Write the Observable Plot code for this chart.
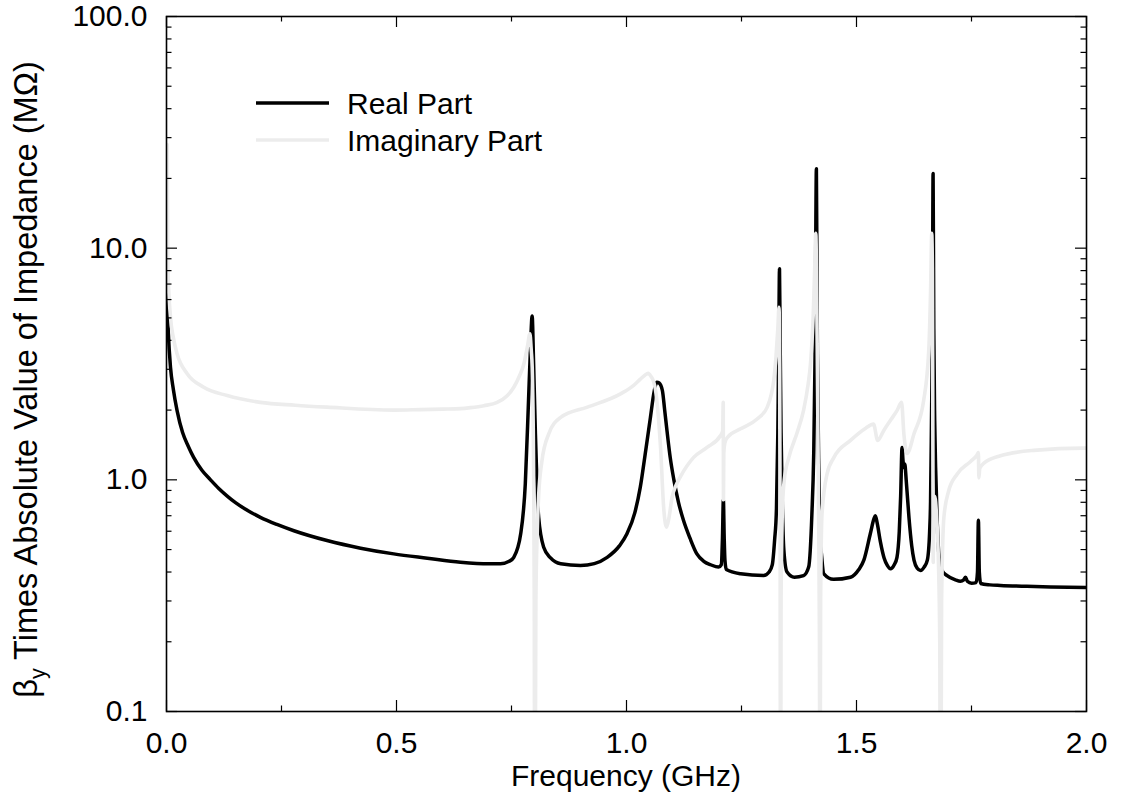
<!DOCTYPE html>
<html><head><meta charset="utf-8">
<script src="https://cdn.jsdelivr.net/npm/d3@7"></script>
<script src="https://cdn.jsdelivr.net/npm/@observablehq/plot@0.6"></script>
<style>
body{margin:0;background:#fff;}
#wrap{width:1123px;height:800px;}
</style></head><body><div id="wrap"></div>
<script>
// Real part: frequency (GHz) and value (MΩ)
const realFreq = [0.000,0.0015,0.004,0.0087,0.015,0.023,0.035,0.047,0.059,0.077,0.0957,0.113,0.132,0.15,0.17,0.204,0.24,0.277,0.349,0.422,0.494,0.567,0.639,0.70,0.726,0.745,0.755,0.770,0.780,0.787,0.791,0.7949,0.798,0.802,0.809,0.820,0.835,0.857,0.90,0.93,0.958,0.985,1.001,1.018,1.030,1.042,1.052,1.060,1.066,1.071,1.078,1.083,1.088,1.095,1.103,1.113,1.124,1.138,1.153,1.168,1.183,1.200,1.206,1.2085,1.2106,1.2125,1.214,1.217,1.248,1.298,1.310,1.317,1.322,1.326,1.329,1.331,1.3326,1.334,1.336,1.339,1.342,1.349,1.365,1.385,1.396,1.403,1.407,1.410,1.4128,1.415,1.418,1.421,1.425,1.429,1.450,1.487,1.505,1.516,1.530,1.538,1.541,1.545,1.552,1.560,1.567,1.574,1.582,1.588,1.593,1.596,1.599,1.601,1.603,1.605,1.608,1.614,1.620,1.625,1.632,1.639,1.647,1.654,1.659,1.661,1.663,1.665,1.6665,1.668,1.670,1.672,1.675,1.679,1.686,1.697,1.715,1.726,1.733,1.737,1.741,1.750,1.760,1.763,1.765,1.767,1.770,1.790,1.813,1.870,1.922,2.000];
const realVal = [7.0,5.9,4.3,3.06,2.45,1.99,1.6,1.4,1.25,1.1,1.0,0.92,0.851,0.797,0.75,0.689,0.642,0.603,0.547,0.507,0.479,0.459,0.441,0.434,0.434,0.445,0.463,0.585,0.96,2.2,3.6,5.1,3.2,1.58,0.69,0.512,0.46,0.434,0.427,0.435,0.463,0.52,0.585,0.72,0.93,1.35,1.86,2.4,2.64,2.62,2.43,2.0,1.63,1.25,1.0,0.8,0.667,0.56,0.479,0.445,0.43,0.42,0.43,0.55,0.82,0.55,0.45,0.41,0.393,0.386,0.40,0.43,0.55,0.75,1.6,3.8,8.15,4.0,1.6,0.75,0.50,0.40,0.38,0.386,0.42,0.71,1.3,3.5,22,3.5,1.1,0.6,0.45,0.393,0.372,0.38,0.41,0.45,0.585,0.68,0.70,0.65,0.54,0.46,0.427,0.413,0.43,0.463,0.6,0.85,1.38,1.22,1.13,1.17,1.0,0.69,0.52,0.45,0.415,0.406,0.42,0.45,0.6,0.81,1.8,4.5,21,4.5,1.8,1.13,0.7,0.48,0.406,0.386,0.37,0.365,0.37,0.38,0.365,0.358,0.36,0.4,0.67,0.4,0.357,0.352,0.35,0.347,0.345,0.343];

// Imaginary part (absolute value; values below 0.1 dip out of the frame)
const imagFreq = [0.000,0.0015,0.003,0.0087,0.015,0.023,0.045,0.081,0.132,0.204,0.28,0.349,0.494,0.552,0.600,0.639,0.661,0.690,0.719,0.740,0.755,0.767,0.777,0.785,0.790,0.793,0.795,0.798,0.7995,0.8005,0.803,0.806,0.809,0.816,0.831,0.857,0.915,0.987,1.015,1.030,1.040,1.047,1.053,1.059,1.063,1.068,1.074,1.081,1.087,1.092,1.099,1.108,1.117,1.146,1.175,1.204,1.209,1.2103,1.2108,1.2115,1.214,1.220,1.248,1.284,1.306,1.315,1.320,1.325,1.329,1.3315,1.333,1.334,1.3348,1.336,1.339,1.343,1.353,1.371,1.385,1.395,1.400,1.406,1.409,1.4115,1.413,1.415,1.417,1.4195,1.4203,1.422,1.425,1.436,1.451,1.487,1.520,1.537,1.546,1.559,1.575,1.588,1.598,1.603,1.610,1.625,1.646,1.657,1.661,1.6635,1.665,1.666,1.6668,1.668,1.670,1.674,1.678,1.681,1.6826,1.685,1.690,1.700,1.719,1.748,1.762,1.765,1.766,1.768,1.777,1.813,1.885,1.994,2.000];
const imagVal = [28,28,8.3,5.04,4.1,3.5,2.87,2.51,2.31,2.16,2.1,2.06,2.0,2.01,2.02,2.03,2.05,2.09,2.16,2.3,2.51,2.8,3.17,3.8,4.27,3.6,3.06,1.13,0.3,0.01,0.3,0.6,0.85,1.2,1.58,1.86,2.06,2.35,2.55,2.72,2.83,2.88,2.8,2.65,2.45,2.0,1.38,0.75,0.625,0.68,0.84,0.95,1.03,1.25,1.38,1.55,1.62,2.16,0.82,1.3,1.45,1.53,1.66,1.83,2.06,2.35,2.68,3.4,4.5,5.55,3.0,0.5,0.01,0.3,0.75,1.0,1.25,1.6,2.0,2.6,3.17,5.2,8.0,11.6,8.0,3.0,1.0,0.2,0.01,0.3,0.71,1.06,1.25,1.48,1.67,1.74,1.48,1.63,1.82,1.99,2.16,1.58,1.3,1.58,2.2,3.6,6.5,11.6,8.0,1.5,0.44,0.8,0.85,0.7,0.45,0.2,0.01,0.3,0.69,0.89,1.06,1.2,1.28,1.31,1.02,1.12,1.18,1.27,1.34,1.37,1.37];

const xTicksMajor = [0, 0.5, 1.0, 1.5, 2.0];
const xTicksMinor = [0.25, 0.75, 1.25, 1.75];
const yTicksMajor = [0.1, 1, 10, 100];
const yTicksMinor = [0.2,0.3,0.4,0.5,0.6,0.7,0.8,0.9,2,3,4,5,6,7,8,9,20,30,40,50,60,70,80,90];
const seriesNames = ["Real Part", "Imaginary Part"];
const seriesColors = ["#000000", "#ececec"];
const xTitle = "Frequency (GHz)";
const yTitleBeta = "β", yTitleSub = "y", yTitleRest = " Times Absolute Value of Impedance (MΩ)";

const W = 1123, H = 800, mL = 166, mR = 37, mT = 16, mB = 89;
const innerW = W - mL - mR, innerH = H - mT - mB;
const FONT = "Liberation Sans, Arial, Helvetica, sans-serif";
const FS = 30, FSY = 32.5;

const real = realFreq.map((f, i) => ({f, v: realVal[i]}));
const imag = imagFreq.map((f, i) => ({f, v: imagVal[i]}));

const majLen = 11, minLen = 5.5;
const chart = Plot.plot({
  width: W, height: H,
  marginLeft: mL, marginRight: mR, marginTop: mT, marginBottom: mB,
  style: {fontFamily: FONT, fontSize: FS + "px", background: "#fff", color: "#000", overflow: "visible"},
  x: {domain: [0, 2]},
  y: {type: "log", domain: [0.1, 100]},
  marks: [
    Plot.line(real, {x: "f", y: "v", stroke: seriesColors[0], strokeWidth: 3.5, curve: "monotone-x", clip: true}),
    Plot.line(imag, {x: "f", y: "v", stroke: seriesColors[1], strokeWidth: 3.6, curve: "monotone-x", clip: true}),
    Plot.ruleX(xTicksMajor, {x: d => d, insetTop: innerH - majLen, stroke: "#000", strokeWidth: 1.2}),
    Plot.ruleX(xTicksMajor, {x: d => d, insetBottom: innerH - majLen, stroke: "#000", strokeWidth: 1.2}),
    Plot.ruleX(xTicksMinor, {x: d => d, insetTop: innerH - minLen, stroke: "#000", strokeWidth: 1.2}),
    Plot.ruleX(xTicksMinor, {x: d => d, insetBottom: innerH - minLen, stroke: "#000", strokeWidth: 1.2}),
    Plot.ruleY(yTicksMajor, {y: d => d, insetRight: innerW - majLen, stroke: "#000", strokeWidth: 1.2}),
    Plot.ruleY(yTicksMajor, {y: d => d, insetLeft: innerW - majLen, stroke: "#000", strokeWidth: 1.2}),
    Plot.ruleY(yTicksMinor, {y: d => d, insetRight: innerW - minLen, stroke: "#000", strokeWidth: 1.2}),
    Plot.ruleY(yTicksMinor, {y: d => d, insetLeft: innerW - minLen, stroke: "#000", strokeWidth: 1.2}),
    Plot.frame({stroke: "#000", strokeWidth: 1.6}),
    Plot.axisX(xTicksMajor, {tickSize: 0, tickPadding: 20, tickFormat: d => d.toFixed(1), label: null, fontSize: FS}),
    Plot.axisY(yTicksMajor, {tickSize: 0, tickPadding: 19, tickFormat: d => d.toFixed(1), label: null, fontSize: FS})
  ]
});
document.getElementById("wrap").appendChild(chart);

const svg = d3.select(chart);
svg.append("text")
  .attr("x", mL + innerW / 2).attr("y", 786)
  .attr("text-anchor", "middle")
  .attr("font-family", FONT).attr("font-size", FS).attr("fill", "#000")
  .text(xTitle);
const yt = svg.append("text")
  .attr("transform", `translate(37,${mT + innerH / 2 + 16}) rotate(-90)`)
  .attr("text-anchor", "middle")
  .attr("font-family", FONT).attr("font-size", FSY).attr("fill", "#000");
yt.append("tspan").text(yTitleBeta);
yt.append("tspan").attr("dy", 8).attr("font-size", FSY * 0.66).text(yTitleSub);
yt.append("tspan").attr("dy", -8).text(yTitleRest);

const lg = svg.append("g");
seriesNames.forEach((name, i) => {
  const y = 103 + i * 37;
  lg.append("line").attr("x1", 256).attr("x2", 329).attr("y1", y).attr("y2", y)
    .attr("stroke", seriesColors[i]).attr("stroke-width", 3.5);
  lg.append("text").attr("x", 347).attr("y", y + 10.5)
    .attr("text-anchor", "start")
    .attr("font-family", FONT).attr("font-size", FS).attr("fill", "#000").text(name);
});
</script>
</body></html>
